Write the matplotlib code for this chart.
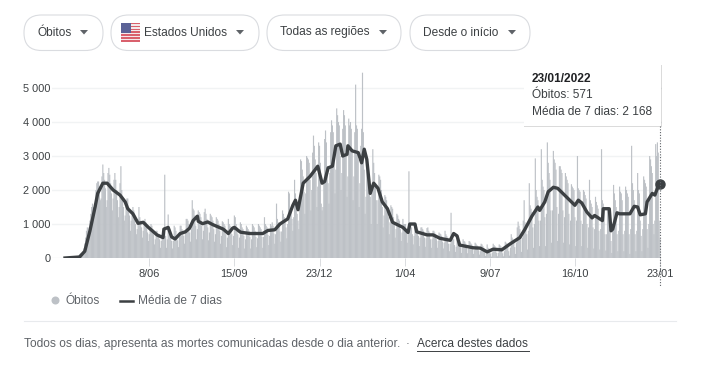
"""Daily US COVID deaths with 7-day mean, Google-style panel."""
import numpy as np
import matplotlib
matplotlib.use('Agg')
import matplotlib.pyplot as plt
from matplotlib.patches import FancyBboxPatch, Polygon, Rectangle, Circle

plt.rcParams['font.family'] = ['Liberation Sans', 'DejaVu Sans']

# daily deaths, one row per week (Mon..Sun), from 2020-03-02 to 2022-01-23
daily_deaths = [
    0, 0, 1, 2, 3, 5, 4,
    5, 8, 10, 15, 20, 25, 20,
    40, 60, 80, 110, 130, 150, 120,
    180, 280, 430, 600, 800, 900, 700,
    900, 1100, 1300, 1500, 1600, 1500, 1300,
    1500, 2000, 2200, 2250, 2250, 2100, 1700,
    1750, 2400, 2750, 2500, 2300, 2050, 1500,
    1700, 2500, 2650, 2450, 2200, 1900, 1400,
    1750, 2300, 2500, 2300, 2000, 1700, 1200,
    1500, 2200, 2700, 2000, 1800, 1500, 1100,
    1250, 1500, 1750, 1750, 1500, 1250, 800,
    1100, 1350, 1500, 1400, 1250, 1000, 700,
    850, 1150, 1500, 1200, 1100, 900, 600,
    800, 1050, 1150, 1050, 900, 750, 500,
    700, 900, 1000, 950, 850, 700, 400,
    550, 800, 800, 700, 700, 550, 300,
    500, 700, 800, 750, 2450, 650, 300,
    550, 1280, 900, 800, 700, 500, 280,
    500, 950, 900, 800, 650, 520, 320,
    620, 950, 950, 850, 800, 650, 420,
    750, 1150, 1150, 1100, 1000, 750, 480,
    850, 1700, 1450, 1400, 1250, 950, 550,
    850, 1400, 1350, 1300, 1200, 950, 550,
    800, 1350, 1450, 1300, 1150, 900, 520,
    750, 1300, 1250, 1200, 1100, 850, 480,
    700, 1200, 1150, 1100, 1000, 800, 420,
    650, 1080, 1050, 1000, 950, 700, 320,
    600, 1150, 1000, 950, 850, 700, 380,
    650, 1250, 1200, 1000, 900, 700, 300,
    600, 1050, 1000, 900, 850, 650, 280,
    550, 950, 900, 850, 800, 620, 280,
    550, 1000, 950, 900, 800, 620, 320,
    580, 1000, 950, 900, 850, 620, 300,
    620, 1200, 1000, 950, 900, 680, 380,
    650, 1000, 950, 1050, 950, 720, 420,
    700, 1600, 1150, 1050, 1000, 780, 480,
    780, 1400, 1300, 1200, 1150, 900, 580,
    1000, 1950, 1900, 1450, 1350, 1150, 800,
    1200, 2300, 1900, 1650, 1300, 1100, 850,
    1600, 2900, 2850, 2600, 2400, 1950, 1300,
    1900, 3000, 2950, 2900, 2800, 2300, 1400,
    2000, 3100, 3600, 3300, 2900, 2500, 1500,
    2100, 3400, 3300, 2800, 1600, 1400, 1500,
    2200, 3500, 3750, 3400, 2700, 2200, 1600,
    2500, 3700, 4050, 3900, 3700, 2900, 1900,
    2600, 4400, 4200, 4000, 3900, 3000, 2000,
    2500, 3800, 4350, 4200, 3900, 3100, 1800,
    2400, 4100, 3900, 4000, 3800, 3200, 1700,
    2400, 3700, 5100, 3900, 3800, 2900, 1500,
    2200, 3300, 3800, 5450, 3700, 2600, 1300,
    1800, 2700, 2700, 2600, 2400, 1800, 1000,
    1900, 3200, 2800, 2500, 2200, 1700, 1000,
    1700, 2450, 2400, 2300, 2000, 1500, 900,
    1250, 1850, 1800, 1700, 1500, 1200, 700,
    1050, 1550, 1500, 1450, 1200, 1000, 600,
    850, 1300, 1250, 1150, 1100, 850, 500,
    750, 1150, 1000, 1000, 1000, 750, 450,
    700, 2550, 1000, 950, 900, 700, 400,
    650, 1000, 1000, 900, 850, 650, 350,
    600, 900, 900, 850, 800, 600, 330,
    580, 880, 900, 800, 750, 550, 300,
    550, 800, 800, 750, 700, 550, 300,
    500, 750, 720, 700, 650, 480, 280,
    450, 800, 700, 650, 600, 420, 200,
    420, 1330, 700, 620, 550, 380, 180,
    330, 600, 580, 520, 480, 320, 150,
    300, 550, 500, 480, 420, 300, 140,
    270, 500, 480, 430, 400, 270, 120,
    230, 450, 420, 380, 350, 230, 100,
    200, 420, 400, 350, 300, 170, 60,
    140, 400, 300, 280, 260, 130, 40,
    160, 420, 380, 350, 300, 150, 50,
    150, 400, 370, 340, 300, 140, 50,
    200, 480, 450, 420, 380, 200, 70,
    300, 700, 600, 550, 500, 320, 120,
    450, 900, 1070, 950, 850, 550, 180,
    600, 1100, 1700, 1050, 1000, 700, 250,
    800, 2200, 1550, 1450, 1350, 900, 300,
    1000, 2930, 2000, 1800, 1700, 1100, 350,
    1100, 3200, 2300, 2100, 2000, 1200, 350,
    1300, 3400, 2800, 2500, 2300, 1400, 450,
    1400, 3150, 2900, 2800, 2600, 1500, 500,
    1300, 2700, 2700, 2600, 2500, 1400, 450,
    1200, 2500, 2400, 2300, 2200, 1300, 400,
    1100, 2170, 2100, 2050, 2000, 1200, 350,
    1100, 3000, 2050, 2000, 1950, 1100, 350,
    1000, 2000, 1950, 1850, 1750, 1000, 300,
    900, 2300, 1700, 1600, 1500, 900, 280,
    850, 1800, 1650, 1550, 1450, 800, 250,
    850, 3200, 1700, 1600, 1400, 700, 220,
    700, 1500, 1400, 1000, 900, 500, 150,
    800, 2150, 1900, 1700, 1500, 700, 200,
    800, 2100, 1950, 1900, 1700, 700, 200,
    800, 2100, 2000, 1900, 1800, 700, 120,
    850, 3300, 2200, 2000, 1700, 700, 200,
    800, 2500, 2000, 1900, 1100, 650, 200,
    850, 2400, 2300, 2200, 2100, 850, 300,
    1000, 3000, 2900, 2700, 2500, 1000, 700,
    1100, 3350, 3000, 3400, 3100, 1100, 571,
]

# 7-day mean, read at the turning points of the line
mean_days = [
    0, 17, 23, 29, 35, 38, 44, 49, 56, 64, 70, 73, 79, 85, 91, 97, 107, 114,
    115, 120, 124, 128, 134, 140, 145, 149, 154, 155, 160, 166, 172, 184, 190,
    195, 197, 204, 215, 230, 236, 244, 250, 259, 265, 268, 271, 277, 285, 294,
    299, 302, 306, 311, 315, 320, 323, 328, 329, 334, 341, 345, 348, 351, 355,
    359, 364, 369, 375, 381, 393, 399, 401, 407, 409, 421, 428, 436, 448, 452,
    456, 459, 471, 475, 483, 491, 498, 508, 518, 529, 535, 543, 550, 552, 558,
    562, 568, 573, 579, 587, 593, 597, 601, 607, 613, 616, 625, 626, 633, 635,
    637, 642, 645, 657, 662, 666, 669, 675, 677, 683, 686, 689, 692,
]
mean_values = [
    0, 30, 200, 800, 1500, 1900, 2200, 2200, 2000, 1850, 1650, 1450, 1300,
    1020, 1050, 900, 680, 600, 850, 900, 620, 560, 720, 770, 880, 1100, 1230,
    1080, 1010, 1060, 980, 850, 720, 880, 900, 760, 720, 720, 810, 830, 1000,
    1150, 1550, 1700, 1420, 2200, 2400, 2700, 2200, 2250, 2650, 2700, 3300,
    3350, 3000, 3050, 3300, 3150, 3100, 2800, 3200, 2900, 1900, 2200, 2050,
    1650, 1450, 1050, 900, 750, 1000, 1000, 770, 680, 680, 580, 520, 720, 650,
    380, 320, 300, 290, 180, 260, 240, 420, 600, 850, 1230, 1500, 1400, 1650,
    1950, 2080, 2050, 1900, 1700, 1550, 1700, 1620, 1350, 1180, 1250, 1100,
    1450, 1450, 800, 850, 1330, 1300, 1300, 1520, 1500, 1270, 1300, 1650,
    1900, 1850, 2050, 2168,
]

y_ticks = [0, 1000, 2000, 3000, 4000, 5000]
y_labels = ['0', '1 000', '2 000', '3 000', '4 000', '5 000']
x_ticks = [98, 197, 296, 395, 494, 593, 692]
x_labels = ['8/06', '15/09', '23/12', '1/04', '9/07', '16/10', '23/01']

filter_chips = ['Óbitos', 'Estados Unidos', 'Todas as regiões', 'Desde o início']
tooltip_lines = ['23/01/2022', 'Óbitos: 571', 'Média de 7 dias: 2 168']

GREY_BAR = '#bdc1c6'
DARK = '#3c4043'
MUTED = '#5f6368'

W, H = 708, 368
fig = plt.figure(figsize=(W / 100, H / 100), dpi=100)

# plot area: day 0 sits at x=65px, day 692 at 660px, 0 at y=258px, 5000 at y=88px
px_per_day = (660 - 65) / 692
px_per_unit = 34 / 1000
left, right, top, bottom = 52, 662, 68, 258
ax = fig.add_axes([left / W, 1 - bottom / H, (right - left) / W, (bottom - top) / H])
ax.set_xlim(-(65 - left) / px_per_day, 692 + (right - 660) / px_per_day)
ax.set_ylim(0, (bottom - top) / px_per_unit)

days = np.arange(len(daily_deaths))
# wider than a day on purpose: bars are under a pixel wide and wash out otherwise
bars = ax.bar(days, daily_deaths, width=1.35, color=GREY_BAR, linewidth=0, zorder=2)
for b in bars:
    b.set_snap(False)
ax.plot(mean_days, mean_values, color=DARK, lw=2.4, solid_joinstyle='round', zorder=3)
ax.plot(mean_days[-1], mean_values[-1], 'o', ms=6.5, color=DARK, clip_on=False, zorder=4)

for s in ax.spines.values():
    s.set_visible(False)
ax.set_yticks(y_ticks, y_labels)
ax.set_xticks(x_ticks, x_labels)
ax.tick_params(axis='y', length=0, pad=1, labelsize=7.9, labelcolor=DARK)
ax.tick_params(axis='x', length=6, width=0.7, color='#dadce0', pad=2, labelsize=7.9, labelcolor=DARK)
ax.grid(axis='y', color='#f1f3f4', lw=1.0, zorder=0)
ax.set_axisbelow(True)

# pixel-coordinate layer for the page furniture around the chart
ui = fig.add_axes([0, 0, 1, 1], zorder=5)
ui.set_xlim(0, W)
ui.set_ylim(H, 0)
ui.axis('off')
ui.patch.set_alpha(0)

# dotted cursor under the tooltip
ui.plot([660, 660], [126, 286], color=MUTED, lw=0.8, ls=(0, (1, 1.5)))

chip_edges = [(24, 103), (111, 259), (267, 401), (410, 530)]
chip_text_x = [37.5, 144, 280.5, 423]
chip_arrow_x = [84, 240, 383, 512]
for (x0, x1), label, tx, arrow_x in zip(chip_edges, filter_chips, chip_text_x, chip_arrow_x):
    ui.add_patch(FancyBboxPatch((x0 + 17.5, 15 + 17.5), x1 - x0 - 35, 0.5,
                                boxstyle='round,pad=17.5,rounding_size=17.5',
                                fc='white', ec='#dadce0', lw=0.8))
    ui.text(tx, 32.5, label, fontsize=8.6, color=DARK, va='center', ha='left')
    ui.add_patch(Polygon([(arrow_x - 4, 30), (arrow_x + 4, 30), (arrow_x, 34.5)],
                         fc=MUTED, ec='none'))

# small US flag in the second chip
for i in range(13):
    ui.add_patch(Rectangle((121, 22.7 + i * 1.46), 18.5, 1.46,
                           fc='#d9616d' if i % 2 == 0 else '#f4e9ea', ec='none'))
ui.add_patch(Rectangle((121, 22.7), 9.5, 10.2, fc='#5b6296', ec='none'))

# tooltip
ui.add_patch(Rectangle((523.5, 65), 138, 62, fc='#000000', alpha=0.14, ec='none'))
ui.add_patch(Rectangle((524, 64), 137, 62, fc='white', ec='none'))
ui.text(532, 79, tooltip_lines[0], fontsize=8.6, fontweight='bold', color='#202124', va='center')
ui.text(532, 95.5, tooltip_lines[1], fontsize=8.6, color=DARK, va='center')
ui.text(532, 112, tooltip_lines[2], fontsize=8.6, color=DARK, va='center')

# legend
ui.add_patch(Circle((55.5, 300.5), 4, fc=GREY_BAR, ec='none'))
ui.text(65, 300.5, 'Óbitos', fontsize=8.6, color=MUTED, va='center')
ui.plot([120, 133], [300.5, 300.5], color=DARK, lw=1.8)
ui.text(138, 300.5, 'Média de 7 dias', fontsize=8.6, color=MUTED, va='center')

# footer
ui.plot([24, 676], [321, 321], color='#e8eaed', lw=0.8)
ui.text(24, 344, 'Todos os dias, apresenta as mortes comunicadas desde o dia anterior.',
        fontsize=8.64, color=MUTED, va='center')
ui.text(408, 344, '·', fontsize=8.6, color=MUTED, va='center', ha='center')
ui.text(417, 344, 'Acerca destes dados', fontsize=8.6, color=DARK, va='center')
ui.plot([417, 529], [350.5, 350.5], color=DARK, lw=0.7)

fig.savefig('out.png', dpi=100)
